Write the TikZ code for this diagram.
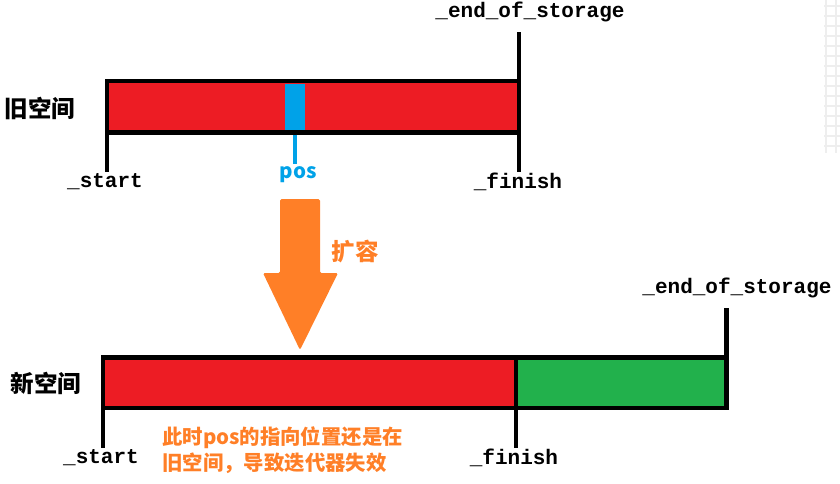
\documentclass[tikz,border=0pt]{standalone}
\usepackage{fontspec}
\newfontfamily\cjk{Noto Sans CJK SC}
\newfontfamily\monof{Liberation Mono}
\definecolor{pred}{HTML}{ED1C24}
\definecolor{pgreen}{HTML}{22B14C}
\definecolor{pblue}{HTML}{00A2E8}
\definecolor{porange}{HTML}{FF7F27}
\definecolor{pgrid}{HTML}{EEEEEE}
\begin{document}
\begin{tikzpicture}[x=1pt,y=-1pt,
  bar/.style={draw=black,line width=4.8pt,inner sep=0pt,outer sep=0pt},
  tick/.style={line width=4.5pt,black},
  lab/.style={font=\monof\bfseries\fontsize{21}{21}\selectfont,inner sep=0pt},
  zh/.style={font=\cjk\bfseries\fontsize{23.5}{23.5}\selectfont,inner sep=0pt},
  note/.style={font=\cjk\bfseries\fontsize{20.4}{25}\selectfont,text=porange,inner sep=0pt,align=left}]
\useasboundingbox (0,0) rectangle (840,483);
% faint grid at right edge
\foreach \yy in {6,16,...,146} \draw[pgrid,line width=1.6pt] (824,\yy) -- (840,\yy);
\draw[pgrid,line width=1.6pt] (825.7,0) -- (825.7,153) (835.7,0) -- (835.7,153);
% old space
\node[bar,fill=pred,minimum width=412pt,minimum height=51.5pt,anchor=north west] (old) at (107,81) {};
\fill[pblue] (285,83.5) rectangle (305,130);
\coordinate (oldtop) at (519,32);
\coordinate (oldstart) at (107,172);
\coordinate (oldfin) at (519,172);
\coordinate (posbot) at (295,164);
\draw[tick] (old.north west) -- (oldstart);
\draw[tick] (oldtop) -- (oldfin);
\draw[pblue,line width=4pt] (295,134.7) -- (posbot);
\node[zh] (oldlab) at (40,108) {旧空间};
\node[lab] (s1) at (105,182) {\_start};
\node[lab] (f1) at (518,182) {\_finish};
\node[lab] (e1) at (530,12) {\_end\_of\_storage};
\node[font=\cjk\bfseries\fontsize{20.5}{20.5}\selectfont,text=pblue,inner sep=0pt] (pos) at (298,175) {pos};
% arrow
\node[inner sep=0pt] (arrowtop) at (300,199) {};
\fill[porange,rounded corners=1.5pt] (280,199) -- (320,199) -- (320,273) -- (338,273) -- (300,350) -- (263,273) -- (280,273) -- cycle;
\node[zh,text=porange] (kr) at (355,252) {扩容};
% new space
\node[bar,fill=pred,minimum width=413pt,minimum height=50.5pt,anchor=north west] (newr) at (103,357.5) {};
\node[bar,fill=pgreen,minimum width=210.5pt,minimum height=50.5pt,anchor=north west] (newg) at (516,357.5) {};
\coordinate (newtop) at (726.5,308);
\coordinate (newstart) at (103,448);
\coordinate (newfin) at (516,448);
\draw[tick] (newr.north west) -- (newstart);
\draw[tick] (newg.north west) -- (newfin);
\draw[tick] (newtop) -- (newg.north east);
\node[zh] (newlab) at (46,383) {新空间};
\node[lab] (s2) at (101,458) {\_start};
\node[lab] (f2) at (514,458) {\_finish};
\node[lab] (e2) at (737,288) {\_end\_of\_storage};
\node[note,anchor=west] (n1) at (162,438) {此时pos的指向位置还是在};
\node[note,anchor=west] (n2) at (162,463) {旧空间，导致迭代器失效};
\end{tikzpicture}
\end{document}
